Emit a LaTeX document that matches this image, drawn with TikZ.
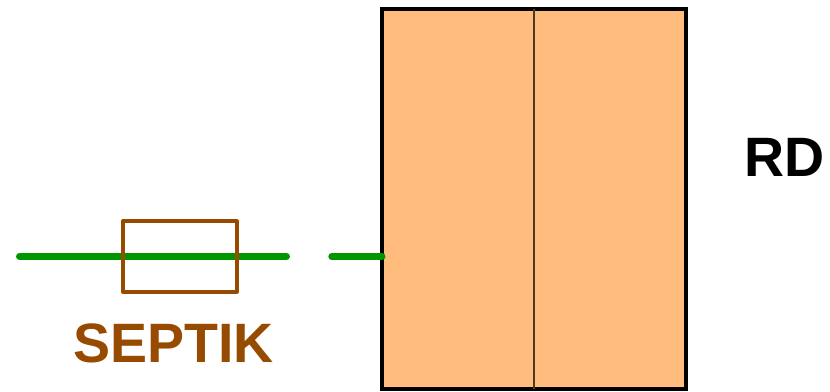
\documentclass[tikz,border=0pt]{standalone}
\usepackage{fontspec}
\setmainfont{Liberation Sans}
\definecolor{fillor}{HTML}{FFBC7D}
\definecolor{brn}{HTML}{964B00}
\definecolor{grn}{HTML}{009600}
\definecolor{divd}{HTML}{4A3A2C}
\tikzset{x=1pt,y=-1pt,
 wire/.style={draw=grn,line width=7pt,line cap=round},
 lbl/.style={inner sep=0pt,anchor=base,font=\bfseries\fontsize{55.5pt}{56pt}\selectfont}}
\begin{document}
\begin{tikzpicture}
\useasboundingbox (0,0) rectangle (830,391);
\node[draw=black,fill=fillor,line width=4pt,minimum width=304pt,minimum height=380pt,inner sep=0pt,outer sep=0pt] (tank) at (534,198.8) {};
\draw[line width=2.4pt,draw=divd] (tank.north) -- (tank.south);
\coordinate (a) at (19.5,256.5);
\coordinate (b) at (286.5,256.5);
\coordinate (c) at (331.8,256.5);
\node[minimum width=113.7pt,minimum height=70pt,inner sep=0pt] (sep) at (179.85,256.5) {};
\draw[wire] (a) -- (b);
\draw[wire] (c) -- (c -| tank.west);
\draw[draw=brn,line width=3.8pt,line join=round] (sep.north west) rectangle (sep.south east);
\node[lbl,text=brn] (septik) at (173.5,362.5) {SEPTIK};
\node[lbl,text=black] (rd) at (784.5,176.5) {RD};
\end{tikzpicture}
\end{document}
